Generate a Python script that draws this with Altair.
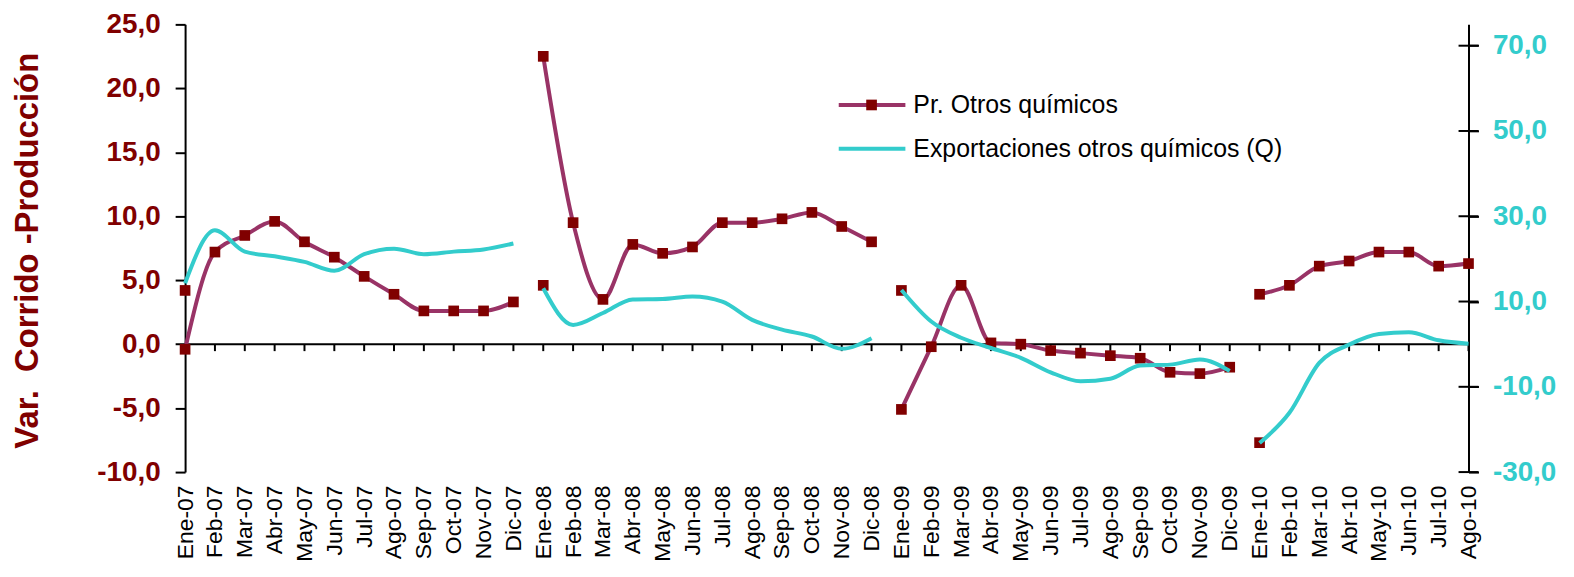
import altair as alt
import pandas as pd

months = ["Ene-07", "Feb-07", "Mar-07", "Abr-07", "May-07", "Jun-07", "Jul-07", "Ago-07", "Sep-07", "Oct-07", "Nov-07", "Dic-07",
          "Ene-08", "Feb-08", "Mar-08", "Abr-08", "May-08", "Jun-08", "Jul-08", "Ago-08", "Sep-08", "Oct-08", "Nov-08", "Dic-08",
          "Ene-09", "Feb-09", "Mar-09", "Abr-09", "May-09", "Jun-09", "Jul-09", "Ago-09", "Sep-09", "Oct-09", "Nov-09", "Dic-09",
          "Ene-10", "Feb-10", "Mar-10", "Abr-10", "May-10", "Jun-10", "Jul-10", "Ago-10"]

years = ["2007"] * 12 + ["2008"] * 12 + ["2009"] * 12 + ["2010"] * 8

# Pr. Otros químicos (left axis)
prod_2007 = [-0.4, 7.2, 8.5, 9.6, 8.0, 6.8, 5.3, 3.9, 2.6, 2.6, 2.6, 3.3]
prod_2008 = [22.5, 9.5, 3.5, 7.8, 7.1, 7.6, 9.5, 9.5, 9.8, 10.3, 9.2, 8.0]
prod_2009 = [-5.1, -0.2, 4.6, 0.1, 0.0, -0.5, -0.7, -0.9, -1.1, -2.2, -2.3, -1.8]
prod_2010 = [3.9, 4.6, 6.1, 6.5, 7.2, 7.2, 6.1, 6.3]

# Exportaciones otros químicos (Q) (right axis)
expo_2007 = [14.3, 26.7, 21.7, 20.6, 19.3, 17.2, 21.1, 22.4, 21.1, 21.7, 22.2, 23.6]
expo_2008 = [13.1, 4.5, 7.3, 10.5, 10.6, 11.2, 10.0, 5.7, 3.4, 1.8, -1.1, 1.4]
expo_2009 = [12.7, 5.3, 1.5, -0.9, -3.2, -6.6, -8.7, -8.1, -5.0, -4.8, -3.6, -6.3]
expo_2010 = [-23.2, -16.1, -4.4, -0.1, 2.4, 2.8, 0.9, 0.1]

# extra January markers shown in the chart
extra_months = ["Ene-07", "Ene-08", "Ene-09", "Ene-10"]
extra_vals = [4.2, 4.6, 4.2, -7.7]

left_ticks = [-10, -5, 0, 5, 10, 15, 20, 25]
right_ticks = [-30, -10, 10, 30, 50, 70]

prod = prod_2007 + prod_2008 + prod_2009 + prod_2010
expo = expo_2007 + expo_2008 + expo_2009 + expo_2010

df = pd.DataFrame({"mes": months, "prod": prod, "expo": expo, "anio": years})
dfx = pd.DataFrame({"mes": extra_months, "val": extra_vals})
dfr = pd.DataFrame({"t": right_ticks})
one = pd.DataFrame({"v": [0]})

RED_LINE = "#993366"
RED_MK = "#800000"
TEAL = "#33CCCC"
FONT = "Liberation Sans"
fmt = "replace(replace(format(datum.value, '.1f'), '.', ','), '\u2212', '-')"

xaxis = alt.Axis(title=None, labelAngle=-90, domain=False, ticks=False, grid=False,
                 labelFont=FONT, labelFontSize=23, labelColor="black", labelPadding=13)
xscale = alt.Scale(type="point", padding=0)


def xenc():
    return alt.X("mes:O", sort=months, scale=xscale, axis=xaxis)


yscale_l = alt.Scale(domain=[-10, 25], nice=False, zero=False)
yaxis_l = alt.Axis(title="Var.\u00a0 Corrido -Producción", values=left_ticks, labelExpr=fmt,
                   labelFont=FONT, labelFontSize=28, labelFontWeight="bold", labelColor=RED_MK,
                   labelPadding=15, tickSize=10, tickWidth=2, tickColor="black",
                   domainColor="black", domainWidth=2, grid=False,
                   titleFont=FONT, titleFontSize=33, titleFontWeight="bold", titleColor=RED_MK,
                   titleAngle=-90, titleX=-148, titleY=227, titleAlign="center",
                   titleBaseline="alphabetic")

yscale_r = alt.Scale(domain=[-30, 75], nice=False, zero=False)
yaxis_r = alt.Axis(orient="right", title=None, values=right_ticks, labelExpr=fmt,
                   labelFont=FONT, labelFontSize=28, labelFontWeight="bold", labelColor=TEAL,
                   labelPadding=14, tickSize=10, tickWidth=2, tickColor="black",
                   domainColor="black", domainWidth=2, grid=False)

zero = alt.Chart(one).mark_rule(color="black", strokeWidth=2).encode(
    y=alt.Y("v:Q", scale=yscale_l, axis=yaxis_l))

cat_ticks = alt.Chart(df).mark_tick(orient="vertical", size=7, thickness=2, color="black",
                                    yOffset=3.5, opacity=1).encode(
    x=xenc(), y=alt.YDatum(0, type="quantitative", scale=yscale_l, axis=yaxis_l))

red_line = alt.Chart(df).mark_line(color=RED_LINE, strokeWidth=4, interpolate="monotone").encode(
    x=xenc(), y=alt.Y("prod:Q", scale=yscale_l, axis=yaxis_l), detail="anio:N")

red_pts = alt.Chart(df).mark_point(shape="square", filled=True, color=RED_MK, size=115, opacity=1).encode(
    x=xenc(), y=alt.Y("prod:Q", scale=yscale_l, axis=yaxis_l))

extra_pts = alt.Chart(dfx).mark_point(shape="square", filled=True, color=RED_MK, size=115, opacity=1).encode(
    x=xenc(), y=alt.Y("val:Q", scale=yscale_l, axis=yaxis_l))

# legend
leg1 = alt.Chart(one).mark_rule(color=RED_LINE, strokeWidth=4).encode(
    x=alt.value(657), x2=alt.value(724), y=alt.value(81))
leg1p = alt.Chart(one).mark_point(shape="square", filled=True, color=RED_MK, size=115, opacity=1).encode(
    x=alt.value(690), y=alt.value(81))
leg2 = alt.Chart(one).mark_rule(color=TEAL, strokeWidth=4).encode(
    x=alt.value(657), x2=alt.value(724), y=alt.value(125))
leg1t = alt.Chart(one).mark_text(text="Pr. Otros químicos", font=FONT, fontSize=25, color="black",
                                  align="left", baseline="middle").encode(
    x=alt.value(732), y=alt.value(81))
leg2t = alt.Chart(one).mark_text(text="Exportaciones otros químicos (Q)", font=FONT, fontSize=25,
                                  color="black", align="left", baseline="middle").encode(
    x=alt.value(732), y=alt.value(125))

left = alt.layer(zero, cat_ticks, red_line, red_pts, extra_pts, leg1, leg1p, leg2, leg1t, leg2t)

teal = alt.Chart(df).mark_line(color=TEAL, strokeWidth=4, interpolate="monotone").encode(
    x=xenc(), y=alt.Y("expo:Q", scale=yscale_r, axis=yaxis_r), detail="anio:N")

# crossing ticks on the right axis
rticks = alt.Chart(dfr).mark_tick(orient="horizontal", size=20, thickness=2, color="black", opacity=1).encode(
    x=alt.value(1290), y=alt.Y("t:Q", scale=yscale_r, axis=yaxis_r))

right = alt.layer(teal, rticks)

chart = alt.layer(left, right).resolve_scale(y="independent").properties(
    width=1290, height=450,
    padding={"left": 178, "top": 15, "right": 98, "bottom": 104},
    autosize=alt.AutoSizeParams(type="none"),
    background="white",
).configure_view(stroke=None)

chart.save("out.html", embed_options={"renderer": "svg", "actions": False})
